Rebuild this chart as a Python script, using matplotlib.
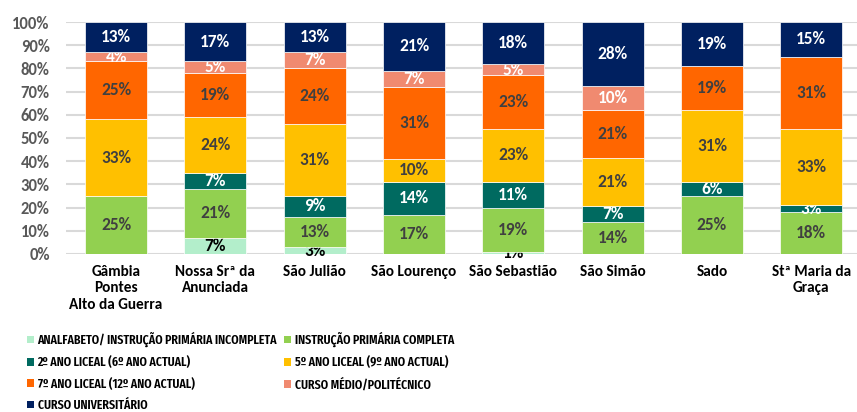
import matplotlib
matplotlib.use("Agg")
import matplotlib.pyplot as plt
import numpy as np
from matplotlib.patches import Patch

categories = ["Gâmbia\nPontes\nAlto da Guerra", "Nossa Srª da\nAnunciada", "São Julião",
              "São Lourenço", "São Sebastião", "São Simão", "Sado", "Stª Maria da\nGraça"]
series_names = ["ANALFABETO/ INSTRUÇÃO PRIMÁRIA INCOMPLETA", "INSTRUÇÃO PRIMÁRIA COMPLETA",
                "2º ANO LICEAL (6º ANO ACTUAL)", "5º ANO LICEAL (9º ANO ACTUAL)",
                "7º ANO LICEAL (12º ANO ACTUAL)", "CURSO MÉDIO/POLITÉCNICO",
                "CURSO UNIVERSITÁRIO"]
analfabeto = [0, 7, 3, 0, 1, 0, 0, 0]
primaria = [25, 21, 13, 17, 19, 13.8, 25, 18]
liceal2 = [0, 7, 9, 14, 11, 6.9, 6, 3]
liceal5 = [33, 24, 31, 10, 23, 20.7, 31, 33]
liceal7 = [25, 19, 24, 31, 23, 20.7, 19, 31]
medio = [4, 5, 7, 7, 5, 10.3, 0, 0]
univ = [13, 17, 13, 21, 18, 27.6, 19, 15]

colors = ["#B3EECB", "#92D050", "#006A60", "#FFC000", "#FF6600", "#F08A70", "#002060"]
label_colors = ["#000000", "#404040", "#FFFFFF", "#404040", "#404040", "#FFFFFF", "#FFFFFF"]

FONT = ["Carlito", "DejaVu Sans"]
LEGFONT = ["Fira Sans Extra Condensed", "Carlito", "DejaVu Sans"]
plt.rcParams["font.family"] = FONT

fig = plt.figure(figsize=(8.57, 4.12), dpi=100)
ax = fig.add_axes([0.0775, 0.3835, 0.927, 0.5631])

data = [analfabeto, primaria, liceal2, liceal5, liceal7, medio, univ]
x = np.arange(len(categories))
bottom = np.zeros(len(categories))
handles = []
for vals, name, c, lc in zip(data, series_names, colors, label_colors):
    v = np.array(vals, dtype=float) / 100.0
    bars = ax.bar(x, v, 0.625, bottom=bottom, color=c, edgecolor="white", linewidth=0.5,
                  label=name, zorder=3)
    labels = [f"{round(val)}%" if val > 0 else "" for val in vals]
    ax.bar_label(bars, labels=labels, label_type="center", color=lc,
                 fontsize=12.5, fontweight="bold")
    bottom += v
    handles.append(Patch(facecolor=c, label=name))

ax.set_xlim(-0.5, 7.5)
ax.set_ylim(0, 1.0)
ticks = np.arange(0, 1.01, 0.1)
ax.set_yticks(ticks)
ax.set_yticklabels([f"{int(round(t*100))}%" for t in ticks])
ax.yaxis.grid(True, color="#D9D9D9", linewidth=1.5, zorder=0)
ax.set_axisbelow(True)
for s in ax.spines.values():
    s.set_visible(False)
ax.tick_params(axis="y", length=0, labelsize=12, labelcolor="#595959", pad=12)
ax.tick_params(axis="x", length=0, labelsize=11, pad=8)
for lbl in ax.get_yticklabels():
    lbl.set_fontweight("bold")
ax.set_xticks(x)
ax.set_xticklabels(categories, fontweight="bold", linespacing=1.2, va="top")

order = [0, 2, 4, 6, 1, 3, 5]
leg = fig.legend([handles[i] for i in order], [series_names[i] for i in order],
                 ncol=2, loc="upper left", bbox_to_anchor=(0.031, 1 - 332/412),
                 frameon=False, handlelength=0.55, handleheight=0.55,
                 handletextpad=0.3, columnspacing=0.5, labelspacing=0.67,
                 borderpad=0, borderaxespad=0,
                 prop={"family": LEGFONT, "weight": 600, "size": 9.3})

fig.savefig("out.png", dpi=100)
